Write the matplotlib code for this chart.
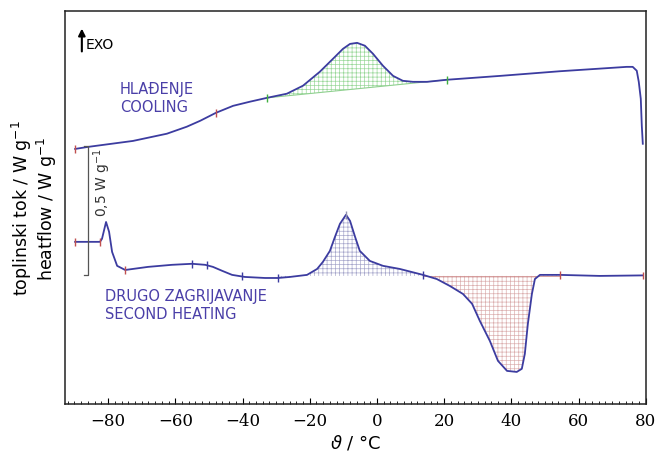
import numpy as np
import matplotlib
matplotlib.use('Agg')
import matplotlib.pyplot as plt
from matplotlib.ticker import MultipleLocator

plt.rcParams['hatch.linewidth'] = 0.5

# DSC curves: temperature / degC, heat flow / W g-1 (offset)
cool_T = [-89.8, -85.9, -72.6, -62.5, -56.6, -52.6, -47.9, -42.8, -37.8, -32.7,
          -26.8, -22.0, -17.0, -13.1, -10.1, -8.0, -5.9, -3.6, -1.2, 1.8,
          4.8, 7.7, 10.7, 14.9, 20.8, 36.6, 54.4, 74.3, 76.1, 77.3,
          77.9, 78.5, 78.8, 79.1]
cool_q = [0.988, 0.996, 1.019, 1.047, 1.074, 1.097, 1.128, 1.155, 1.171, 1.186,
          1.202, 1.233, 1.287, 1.337, 1.376, 1.395, 1.399, 1.388, 1.357, 1.310,
          1.271, 1.252, 1.248, 1.248, 1.256, 1.271, 1.289, 1.306, 1.306, 1.291,
          1.248, 1.182, 1.078, 1.008]

heat_T = [-89.8, -82.4, -81.8, -80.6, -79.7, -78.8, -77.3, -74.9, -68.1, -61.0,
          -55.0, -51.1, -48.8, -46.1, -43.1, -39.3, -33.3, -29.4, -25.9, -20.8,
          -17.8, -16.1, -14.0, -12.5, -11.0, -9.2, -8.0, -6.5, -5.1, -2.1,
          1.8, 6.8, 13.7, 17.8, 21.7, 25.6, 28.3, 30.6, 33.6, 36.0,
          38.7, 41.6, 43.1, 44.0, 44.9, 46.1, 47.0, 48.5, 54.4, 66.3, 79.1]
heat_q = [0.628, 0.628, 0.640, 0.705, 0.667, 0.589, 0.535, 0.519, 0.531, 0.539,
          0.543, 0.539, 0.531, 0.516, 0.500, 0.492, 0.488, 0.488, 0.492, 0.500,
          0.523, 0.550, 0.593, 0.647, 0.698, 0.733, 0.709, 0.647, 0.593, 0.554,
          0.535, 0.523, 0.500, 0.484, 0.457, 0.426, 0.388, 0.322, 0.244, 0.167,
          0.128, 0.124, 0.136, 0.194, 0.310, 0.426, 0.484, 0.500, 0.500, 0.496, 0.498]

# integration limits (baseline end points)
cool_base_T = [-32.7, 20.8]
cool_base_q = [1.186, 1.256]
heat_base_T = [-29.4, 13.7, 54.4]
heat_base_q = 0.496

# evaluation marks on the curves
cool_mark_T = [-89.8, -47.9, -32.7, 20.8]
cool_mark_q = [0.988, 1.128, 1.186, 1.256]
cool_mark_c = ['#c05050', '#c05050', '#40b040', '#40b040']
heat_mark_T = [-89.8, -82.4, -74.9, -55.0, -50.6, -40.1, -29.4, -9.2, 13.7, 54.4, 79.1]
heat_mark_q = [0.628, 0.628, 0.519, 0.543, 0.539, 0.496, 0.488, 0.733, 0.500, 0.500, 0.498]
heat_mark_c = ['#c05050', '#c05050', '#c05050', '#3c3ca0', '#3c3ca0', '#3c3ca0',
               '#3c3ca0', '#9090b0', '#3c3ca0', '#c05050', '#c05050']

line_col = '#3c3ca0'
text_col = '#4a3fa8'

fig = plt.figure(figsize=(6.57, 4.56), dpi=100)
ax = fig.add_axes([0.099, 0.112, 0.884, 0.862])

cT = np.array(cool_T)
cq = np.array(cool_q)
hT = np.array(heat_T)
hq = np.array(heat_q)

# shaded peak areas
m = (cT >= cool_base_T[0]) & (cT <= cool_base_T[1])
base = np.interp(cT[m], cool_base_T, cool_base_q)
ax.fill_between(cT[m], base, cq[m], facecolor='none', edgecolor='#9ad89a',
                hatch='++++', linewidth=0)
ax.plot(cool_base_T, cool_base_q, color='#8fd08f', lw=0.8)

m1 = (hT >= heat_base_T[0]) & (hT <= heat_base_T[1])
ax.fill_between(hT[m1], heat_base_q, hq[m1], facecolor='none', edgecolor='#a8a8cc',
                hatch='++++', linewidth=0)
m2 = (hT >= heat_base_T[1]) & (hT <= heat_base_T[2])
ax.fill_between(hT[m2], heat_base_q, hq[m2], facecolor='none', edgecolor='#dcb0b0',
                hatch='++++', linewidth=0)
ax.plot([heat_base_T[1], heat_base_T[2]], [heat_base_q, heat_base_q], color='#d09090', lw=0.6)

ax.plot(cT, cq, color=line_col, lw=1.3)
ax.plot(hT, hq, color=line_col, lw=1.3)

ax.scatter(cool_mark_T, cool_mark_q, marker='|', s=30, c=cool_mark_c, linewidths=1, zorder=3)
ax.scatter(heat_mark_T, heat_mark_q, marker='|', s=30, c=heat_mark_c, linewidths=1, zorder=3)

# 0,5 W/g scale bar
ax.plot([-87.2, -85.9, -85.9, -87.2], [1.0, 1.0, 0.5, 0.5], color='#555555', lw=0.9)
ax.text(-81.8, 0.86, '0,5 W g$^{-1}$', rotation=90, ha='center', va='center',
        fontsize=10, color='#333333')

# EXO arrow
ax.annotate('', xy=(-87.8, 1.465), xytext=(-87.8, 1.355),
            arrowprops=dict(arrowstyle='-|>', color='black', lw=1.5, mutation_scale=10))
ax.text(-86.6, 1.395, 'EXO', fontsize=10, va='center', ha='left')

ax.text(-76.5, 1.186, 'HLAĐENJE\nCOOLING', color=text_col, fontsize=10.5,
        va='center', ha='left', linespacing=1.25)
ax.text(-80.8, 0.384, 'DRUGO ZAGRIJAVANJE\nSECOND HEATING', color=text_col, fontsize=10.5,
        va='center', ha='left', linespacing=1.25)

ax.set_xlim(-92.8, 80)
ax.set_ylim(0, 1.523)
ax.set_yticks([])
ax.xaxis.set_major_locator(MultipleLocator(20))
ax.xaxis.set_minor_locator(MultipleLocator(2))
ax.tick_params(axis='x', which='major', direction='in', length=4, width=0.8, pad=6)
ax.tick_params(axis='x', which='minor', direction='in', length=2, width=0.6)
for lab in ax.get_xticklabels():
    lab.set_family('DejaVu Serif')
    lab.set_fontsize(12)
for s in ax.spines.values():
    s.set_linewidth(1.1)
    s.set_color('#222222')

ax.set_xlabel(r'$\vartheta$ / °C', fontsize=13, labelpad=2)
ax.set_ylabel('toplinski tok / W g$^{-1}$\nheatflow / W g$^{-1}$', fontsize=12.5,
              labelpad=4, linespacing=1.1)

fig.savefig('out.png', dpi=100)
